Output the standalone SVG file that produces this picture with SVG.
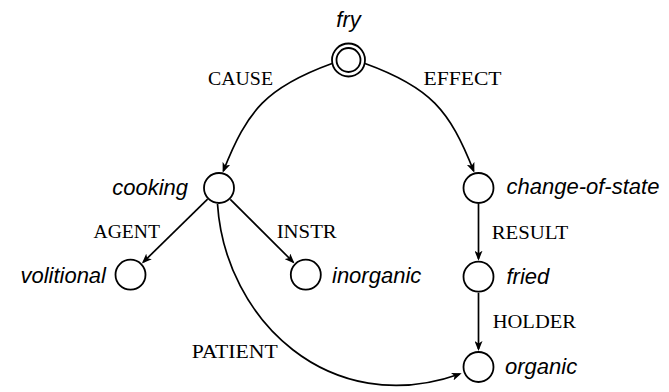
<svg xmlns="http://www.w3.org/2000/svg" width="669" height="392" viewBox="0 0 669 392">
<style>
.node{fill:#fff;stroke:#000;stroke-width:1.8}
.edge{fill:none;stroke:#000;stroke-width:1.7}
.nl{font-family:"Liberation Sans",Arial,sans-serif;font-style:italic;font-size:22px;fill:#000}
.el{font-family:"Liberation Serif","Times New Roman",serif;font-size:18px;fill:#000}
</style>
<defs>
<marker id="arr" markerUnits="userSpaceOnUse" markerWidth="10" markerHeight="8" refX="8" refY="4" orient="auto" viewBox="0 0 10 8">
<path d="M0,0 L10,4 L0,8 L2.5,4 z" fill="#000"/>
</marker>
</defs>
<rect width="669" height="392" fill="#fff"/>
<g id="connectors">
<path id="e-cause" class="edge" marker-end="url(#arr)" d="M332,63.5 C266.2,87.3 247.4,110.3 223.4,170.8"/>
<path id="e-effect" class="edge" marker-end="url(#arr)" d="M365,63.5 C430.8,87.3 449.6,110.3 473.6,170.8"/>
<path id="e-agent" class="edge" marker-end="url(#arr)" d="M207.6,199.2 L143.3,262.1"/>
<path id="e-instr" class="edge" marker-end="url(#arr)" d="M230.3,199.3 L293.1,262"/>
<path id="e-result" class="edge" marker-end="url(#arr)" d="M478.5,204 L478.5,258.7"/>
<path id="e-holder" class="edge" marker-end="url(#arr)" d="M478.5,292.7 L478.5,349"/>
<path id="e-patient" class="edge" marker-end="url(#arr)" d="M217.5,204 C225,320 330,420 459.8,374"/>
<text class="el" x="208" y="85" textLength="65" lengthAdjust="spacingAndGlyphs">CAUSE</text>
<text class="el" x="423.5" y="85" textLength="78" lengthAdjust="spacingAndGlyphs">EFFECT</text>
<text class="el" x="93.5" y="238" textLength="66.5" lengthAdjust="spacingAndGlyphs">AGENT</text>
<text class="el" x="276.7" y="238" textLength="60" lengthAdjust="spacingAndGlyphs">INSTR</text>
<text class="el" x="491.7" y="239" textLength="76.6" lengthAdjust="spacingAndGlyphs">RESULT</text>
<text class="el" x="492.7" y="328" textLength="83.3" lengthAdjust="spacingAndGlyphs">HOLDER</text>
<text class="el" x="191.7" y="358" textLength="86" lengthAdjust="spacingAndGlyphs">PATIENT</text>
</g>
<g id="fry">
<circle class="node" cx="348.5" cy="60" r="16.5"/>
<circle class="node" cx="348.5" cy="60" r="12"/>
<text class="nl" x="348.5" y="27" text-anchor="middle">fry</text>
</g>
<g id="cooking">
<circle class="node" cx="219" cy="188" r="15"/>
<text class="nl" x="188" y="195" text-anchor="end">cooking</text>
</g>
<g id="change-of-state">
<circle class="node" cx="478.5" cy="188" r="15"/>
<text class="nl" x="506.5" y="194">change-of-state</text>
</g>
<g id="volitional">
<circle class="node" cx="130.5" cy="274.7" r="15"/>
<text class="nl" x="106" y="283" text-anchor="end">volitional</text>
</g>
<g id="inorganic">
<circle class="node" cx="305.8" cy="274.7" r="15"/>
<text class="nl" x="332" y="283">inorganic</text>
</g>
<g id="fried">
<circle class="node" cx="478.5" cy="276.7" r="15"/>
<text class="nl" x="506.5" y="284">fried</text>
</g>
<g id="organic">
<circle class="node" cx="478.5" cy="367" r="15"/>
<text class="nl" x="505" y="374">organic</text>
</g>
</svg>
